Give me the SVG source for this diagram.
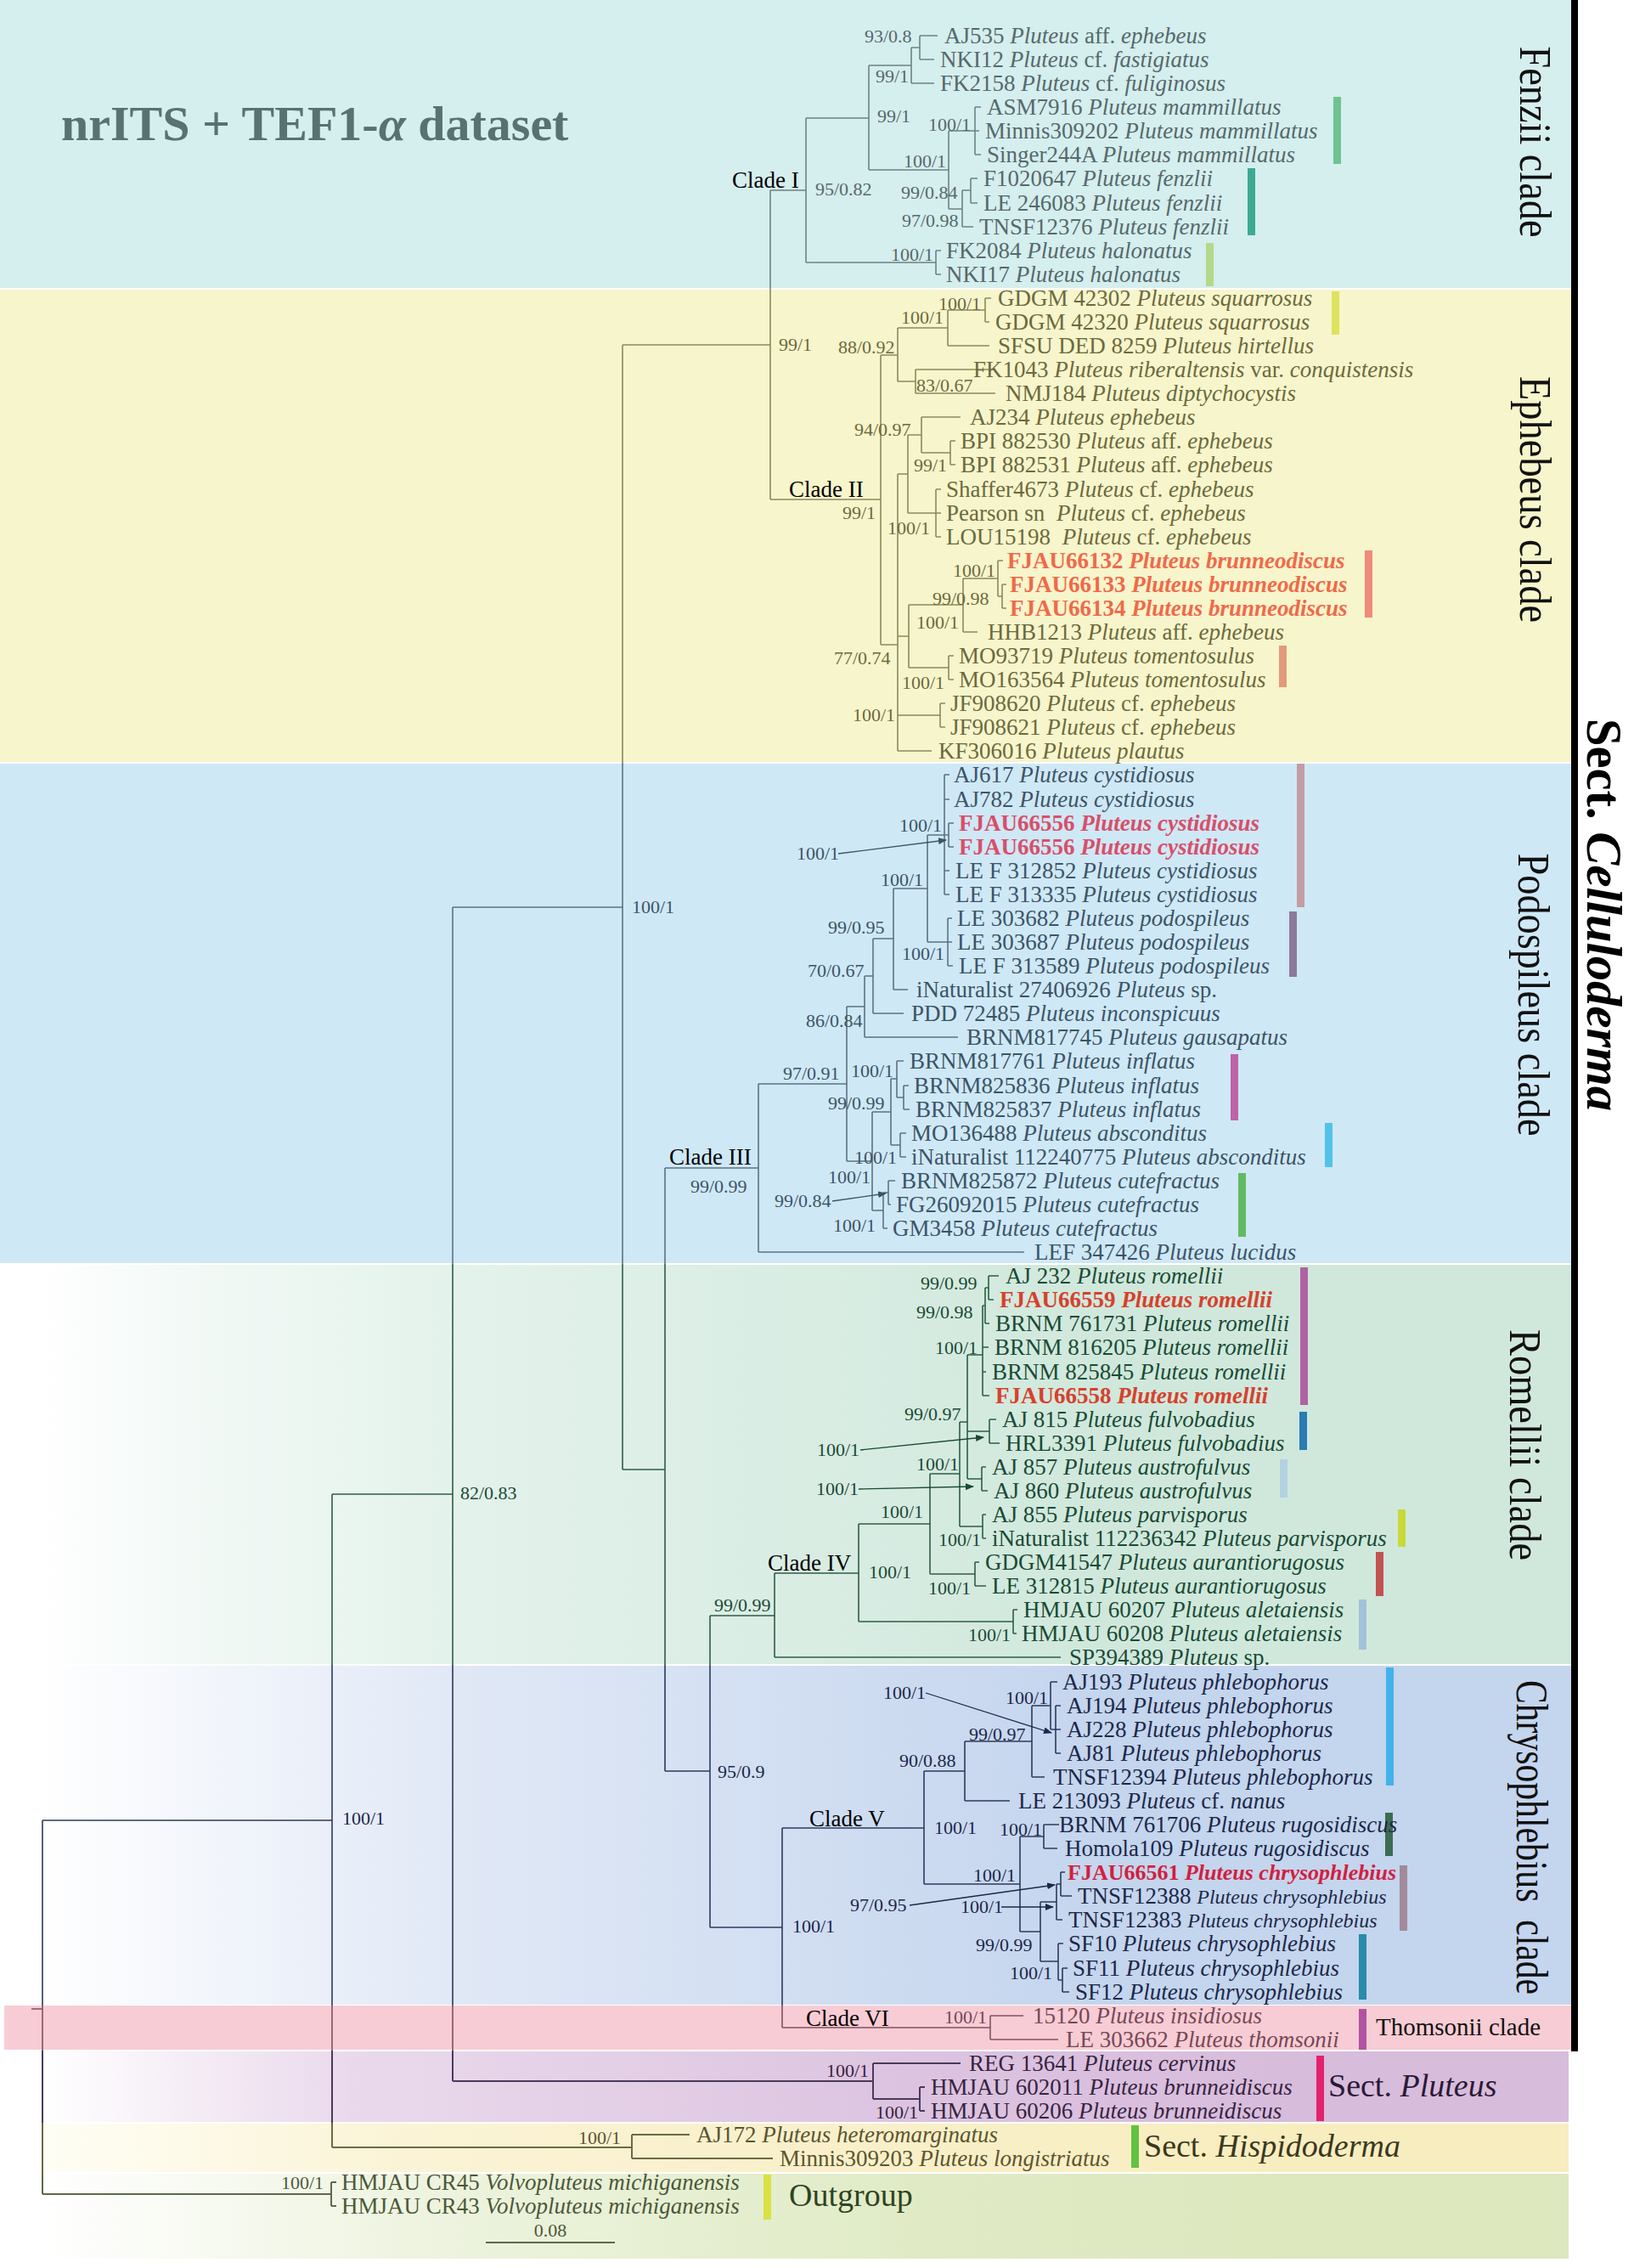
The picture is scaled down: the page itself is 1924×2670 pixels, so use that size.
<svg xmlns="http://www.w3.org/2000/svg" width="1924" height="2670" viewBox="0 0 1924 2670">
<defs>
<style>
text{font-family:"Liberation Serif","Times New Roman",serif}
.lf{font-size:27px}
.bs{font-size:22px}
.i{font-style:italic}
.hb{font-weight:bold}
.sm{font-size:24px}
.cl{font-size:27px;fill:#000}
.tF{fill:#56696a}.tE{fill:#6b6a3e}.tP{fill:#3c5466}.tR{fill:#1a4a34}.tC{fill:#1c2848}.tT{fill:#744856}.tS{fill:#36243f}.tH{fill:#5a5530}.tO{fill:#4b5838}
.r1{fill:#f0694a}.r2{fill:#d84f69}.r3{fill:#d6412c}.r4{fill:#d21f3e;font-size:26px}
.e{fill:none;stroke-width:1.6}
.lF{stroke:#6d8383}.lE{stroke:#8b8a5c}.lP{stroke:#5c7282}.lR{stroke:#2e5d47}.lC{stroke:#2c3a5c}.lT{stroke:#84505e}
.lS{stroke:#4a3a5a;stroke-width:2}.lH{stroke:#6d6a44;stroke-width:2}.lO{stroke:#5c6a4a;stroke-width:2}
.ar{fill:none;stroke-width:1.3}
.side{font-size:52px;fill:#111}
.sect{font-size:38px}
</style>
<linearGradient id="gR" gradientUnits="userSpaceOnUse" x1="45" y1="0" x2="1300" y2="0"><stop offset="0" stop-color="#ffffff"/><stop offset="0.12" stop-color="#f4faf7"/><stop offset="0.4" stop-color="#e3f2eb"/><stop offset="1" stop-color="#d0e8dc"/></linearGradient>
<linearGradient id="gC" gradientUnits="userSpaceOnUse" x1="45" y1="0" x2="1300" y2="0"><stop offset="0" stop-color="#ffffff"/><stop offset="0.4" stop-color="#e0e8f6"/><stop offset="1" stop-color="#c4d5ee"/></linearGradient>
<linearGradient id="gS" gradientUnits="userSpaceOnUse" x1="49" y1="0" x2="1500" y2="0"><stop offset="0" stop-color="#ffffff"/><stop offset="0.25" stop-color="#ead9ec"/><stop offset="0.7" stop-color="#dcc4e0"/><stop offset="1" stop-color="#d8bcdc"/></linearGradient>
<linearGradient id="gH" gradientUnits="userSpaceOnUse" x1="49" y1="0" x2="1500" y2="0"><stop offset="0" stop-color="#fffef5"/><stop offset="0.3" stop-color="#faf3d5"/><stop offset="1" stop-color="#f8edbf"/></linearGradient>
<linearGradient id="gO" gradientUnits="userSpaceOnUse" x1="49" y1="0" x2="1500" y2="0"><stop offset="0" stop-color="#ffffff"/><stop offset="0.3" stop-color="#eef4e0"/><stop offset="0.7" stop-color="#e0ebc6"/><stop offset="1" stop-color="#dde8bf"/></linearGradient>
<marker id="mP" viewBox="0 0 10 8" refX="9" refY="4" markerWidth="10" markerHeight="8" markerUnits="userSpaceOnUse" orient="auto"><path d="M0 0L10 4L0 8z" fill="#3c5466"/></marker>
<marker id="mR" viewBox="0 0 10 8" refX="9" refY="4" markerWidth="10" markerHeight="8" markerUnits="userSpaceOnUse" orient="auto"><path d="M0 0L10 4L0 8z" fill="#1a4a34"/></marker>
<marker id="mC" viewBox="0 0 10 8" refX="9" refY="4" markerWidth="10" markerHeight="8" markerUnits="userSpaceOnUse" orient="auto"><path d="M0 0L10 4L0 8z" fill="#1c2848"/></marker>
</defs>

<g id="bands">
<rect x="0" y="0" width="1850" height="339" fill="#d5eeee"/>
<rect x="0" y="341" width="1850" height="556" fill="#f7f5cb"/>
<rect x="0" y="899" width="1850" height="588" fill="#cfe8f6"/>
<rect x="45" y="1489" width="1805" height="470" fill="url(#gR)"/>
<rect x="45" y="1961" width="1805" height="399" fill="url(#gC)"/>
<rect x="5" y="2361" width="1845" height="52" fill="#f8ccd4"/>
<rect x="49" y="2415" width="1798" height="83" fill="url(#gS)"/>
<rect x="49" y="2500" width="1798" height="57" fill="url(#gH)"/>
<rect x="49" y="2559" width="1798" height="100" fill="url(#gO)"/>
<rect x="1850" y="0" width="8" height="2415" fill="#000"/>
</g>

<g id="title"><text x="72" y="165" font-size="58" font-weight="bold" fill="#587272">nrITS + TEF1-<tspan font-style="italic">α</tspan> dataset</text></g>

<g id="connectors">
<path class="e lF" d="M907 224V340M907 224H949M949 139V309M949 139H1023M949 309H1102M1023 77V200M1023 77H1073M1023 200H1117M1073 56V98M1073 56H1083M1073 98H1100M1083 42V70M1083 42H1104M1083 70H1100M1117 154V246M1117 154H1148M1117 246H1133M1148 126V182M1148 126H1155M1148 154H1153M1148 182H1155M1133 224V267M1133 224H1143M1133 267H1146M1143 210V239M1143 210H1151M1143 239H1151M1102 295V323M1102 295H1108M1102 323H1108"/>
<path class="e lE" d="M907 340V588M733 406H907M733 406V898M907 588H1037M1037 418V759M1037 418H1057M1037 759H1057M1057 386V449M1057 386H1116M1057 449H1078M1116 365V407M1116 365H1160M1116 407H1165M1160 351V379M1160 351H1167M1160 379H1165M1078 435V463M1078 435H1172M1078 463H1172M1057 558V884M1057 558H1069M1057 749H1070M1057 842H1107M1057 884H1097M1069 512V604M1069 512H1085M1069 604H1102M1085 491V533M1085 491H1131M1085 533H1119M1119 519V547M1119 519H1125M1119 547H1125M1102 576V632M1102 576H1108M1102 604H1108M1102 632H1108M1070 712V786M1070 712H1134M1070 786H1117M1134 681V744M1134 681H1175M1134 744H1151M1175 660V702M1175 660H1181M1175 702H1180M1180 688V716M1180 688H1185M1180 716H1185M1117 772V800M1117 772H1123M1117 800H1123M1107 828V856M1107 828H1113M1107 856H1113"/>
<path class="e lP" d="M733 898V1488M533 1068V1488M533 1068H733M783 1375V1488M783 1375H893M893 1276V1474M893 1276H997M893 1474H1206M997 1185V1367M997 1185H1018M997 1367H1027M1018 1149V1221M1018 1149H1028M1018 1221H1128M1028 1105V1193M1028 1105H1052M1028 1193H1064M1052 1046V1165M1052 1046H1092M1052 1165H1069M1092 983V1109M1092 983H1112M1092 1109H1116M1112 912V1053M1112 912H1118M1112 941H1118M1112 983H1117M1112 1025H1118M1112 1053H1118M1117 969V997M1117 969H1123M1117 997H1123M1116 1081V1137M1116 1081H1121M1116 1109H1121M1116 1137H1122M1027 1309V1425M1027 1309H1049M1027 1425H1040M1049 1270V1348M1049 1270H1056M1049 1348H1060M1056 1249V1292M1056 1249H1064M1056 1292H1064M1064 1278V1306M1064 1278H1070M1064 1306H1071M1060 1334V1362M1060 1334H1067M1060 1362H1067M1040 1404V1446M1040 1404H1046M1040 1446H1045M1046 1390V1418M1046 1390H1054M1046 1418H1049"/>
<path class="e lR" d="M733 1488V1730M733 1730H783M783 1488V1960M533 1488V1960M391 1759V1960M391 1759H533M836 1902V1960M836 1902H912M912 1852V1951M912 1852H1011M912 1951H1249M1011 1794V1909M1011 1794H1095M1011 1909H1193M1095 1735V1853M1095 1735H1130M1095 1853H1148M1130 1674V1797M1130 1674H1139M1130 1797H1157M1139 1595V1741M1139 1595H1157M1139 1685H1165M1139 1741H1156M1157 1537V1643M1157 1537H1160M1157 1586H1164M1157 1615H1161M1157 1643H1165M1160 1516V1558M1160 1516H1164M1160 1558H1165M1164 1502V1530M1164 1502H1176M1164 1530H1170M1165 1671V1699M1165 1671H1173M1165 1699H1177M1156 1727V1755M1156 1727H1161M1156 1755H1163M1157 1783V1811M1157 1783H1161M1157 1811H1161M1148 1839V1867M1148 1839H1153M1148 1867H1161M1193 1895V1923M1193 1895H1198M1193 1923H1197"/>
<path class="e lC" d="M783 1960V2085M783 2085H836M836 1960V2269M836 2269H921M533 1960V2361M391 1960V2361M50 2143V2361M50 2143H391M921 2152V2361M921 2152H1088M1088 2085V2218M1088 2085H1136M1088 2218H1201M1136 2050V2120M1136 2050H1215M1136 2120H1189M1215 2008V2092M1215 2008H1237M1215 2092H1230M1237 1980V2036M1237 1980H1245M1237 2036H1243M1243 2008V2064M1243 2008H1249M1243 2036H1249M1243 2064H1249M1201 2162V2274M1201 2162H1229M1201 2274H1225M1229 2148V2176M1229 2148H1247M1229 2176H1245M1225 2239V2309M1225 2239H1244M1225 2309H1246M1244 2218V2260M1244 2218H1249M1244 2260H1251M1249 2204V2232M1249 2204H1254M1249 2232H1262M1246 2288V2331M1246 2288H1252M1246 2331H1251M1251 2317V2345M1251 2317H1257M1251 2345H1259"/>
<path class="e lT" d="M921 2361V2387M921 2387H1166M1166 2373V2401M1166 2373H1205M1166 2401H1246M533 2361V2414M391 2361V2414M50 2361V2414M37 2365H50"/>
<path class="e lS" d="M533 2414V2450M533 2450H1028M1028 2429V2471M1028 2429H1131M1028 2471H1083M1083 2457V2485M1083 2457H1089M1083 2485H1089M391 2414V2499M50 2414V2499"/>
<path class="e lH" d="M391 2499V2528M391 2528H744M744 2513V2541M744 2513H812M744 2541H910M50 2499V2558"/>
<path class="e lO" d="M50 2558V2583M50 2583H390M390 2569V2597M390 2569H396M390 2597H396M572 2640H724"/>
<path class="ar" stroke="#3c5466" marker-end="url(#mP)" d="M987 1005L1114 989"/>
<path class="ar" stroke="#3c5466" marker-end="url(#mP)" d="M980 1414L1043 1405"/>
<path class="ar" stroke="#1a4a34" marker-end="url(#mR)" d="M1013 1707L1158 1692"/>
<path class="ar" stroke="#1a4a34" marker-end="url(#mR)" d="M1011 1753L1146 1750"/>
<path class="ar" stroke="#1c2848" marker-end="url(#mC)" d="M1090 1993L1238 2040"/>
<path class="ar" stroke="#1c2848" marker-end="url(#mC)" d="M1071 2243L1242 2219"/>
<path class="ar" stroke="#1c2848" marker-end="url(#mC)" d="M1179 2245L1240 2245"/>
</g>

<g id="bars">
<rect x="1570" y="114" width="9" height="79" fill="#6ec38f"/>
<rect x="1469" y="198" width="9" height="79" fill="#3caa92"/>
<rect x="1420" y="286" width="9" height="51" fill="#b5d98a"/>
<rect x="1568" y="343" width="9" height="51" fill="#dde35e"/>
<rect x="1607" y="648" width="9" height="79" fill="#f08a7a"/>
<rect x="1506" y="760" width="9" height="49" fill="#e39a7c"/>
<rect x="1527" y="899" width="9" height="169" fill="#c49ca4"/>
<rect x="1518" y="1073" width="9" height="77" fill="#8c7a9a"/>
<rect x="1449" y="1241" width="9" height="78" fill="#c062a8"/>
<rect x="1560" y="1322" width="9" height="52" fill="#52c2ea"/>
<rect x="1458" y="1381" width="9" height="75" fill="#62ba62"/>
<rect x="1531" y="1492" width="9" height="162" fill="#b062a2"/>
<rect x="1530" y="1662" width="9" height="45" fill="#2a7cb2"/>
<rect x="1507" y="1718" width="9" height="45" fill="#b2d2e2"/>
<rect x="1646" y="1777" width="9" height="44" fill="#cad83a"/>
<rect x="1620" y="1827" width="9" height="52" fill="#c25252"/>
<rect x="1600" y="1883" width="9" height="59" fill="#a2c2da"/>
<rect x="1632" y="1963" width="9" height="139" fill="#42b2ea"/>
<rect x="1631" y="2134" width="9" height="51" fill="#3c6c52"/>
<rect x="1648" y="2196" width="9" height="77" fill="#a28a9a"/>
<rect x="1600" y="2277" width="9" height="77" fill="#2a8aaa"/>
<rect x="1600" y="2365" width="9" height="48" fill="#b252a2"/>
<rect x="1550" y="2420" width="9" height="77" fill="#e2226c"/>
<rect x="1332" y="2502" width="9" height="50" fill="#62c242"/>
<rect x="899" y="2560" width="9" height="53" fill="#dae242"/>
</g>

<g id="clade-labels">
<g id="clade-I"><text class="cl" x="862" y="221">Clade I</text></g>
<g id="clade-II"><text class="cl" x="929" y="585">Clade II</text></g>
<g id="clade-III"><text class="cl" x="788" y="1371">Clade III</text></g>
<g id="clade-IV"><text class="cl" x="904" y="1849">Clade IV</text></g>
<g id="clade-V"><text class="cl" x="953" y="2150">Clade V</text></g>
<g id="clade-VI"><text class="cl" x="949" y="2385">Clade VI</text></g>
</g>

<g id="side-labels">
<g id="fenzii-clade"><text class="side" transform="translate(1790,167) rotate(90)" text-anchor="middle" textLength="225" lengthAdjust="spacingAndGlyphs">Fenzii clade</text></g>
<g id="ephebeus-clade"><text class="side" transform="translate(1790,588) rotate(90)" text-anchor="middle" textLength="290" lengthAdjust="spacingAndGlyphs">Ephebeus clade</text></g>
<g id="podospileus-clade"><text class="side" transform="translate(1788,1171) rotate(90)" text-anchor="middle" textLength="333" lengthAdjust="spacingAndGlyphs">Podospileus clade</text></g>
<g id="romellii-clade"><text class="side" transform="translate(1778,1701) rotate(90)" text-anchor="middle" textLength="272" lengthAdjust="spacingAndGlyphs">Romellii clade</text></g>
<g id="chrysophlebius-clade"><text class="side" transform="translate(1786,2163) rotate(90)" text-anchor="middle" textLength="370" lengthAdjust="spacingAndGlyphs" xml:space="preserve">Chrysophlebius  clade</text></g>
<g id="sect-celluloderma"><text transform="translate(1869,1077) rotate(90)" text-anchor="middle" font-size="60" font-weight="bold" fill="#000" textLength="462" lengthAdjust="spacingAndGlyphs">Sect. <tspan font-style="italic">Celluloderma</tspan></text></g>
<g id="thomsonii-clade"><text x="1620" y="2396" font-size="29" fill="#111">Thomsonii clade</text></g>
<g id="sect-pluteus"><text class="sect" x="1564" y="2468" fill="#2a1a36">Sect. <tspan class="i">Pluteus</tspan></text></g>
<g id="sect-hispidoderma"><text class="sect" x="1347" y="2539" fill="#3a3820">Sect. <tspan class="i">Hispidoderma</tspan></text></g>
<g id="outgroup"><text class="sect" x="929" y="2597" fill="#2e4420">Outgroup</text></g>
<g id="scale"><text x="648" y="2633" font-size="22" text-anchor="middle" fill="#4b5838">0.08</text></g>
</g>

<g id="supports" class="bs">
<text class="tE" x="917" y="413">99/1</text>
<text class="tF" x="960" y="230">95/0.82</text>
<text class="tF" x="1033" y="144">99/1</text>
<text class="tF" x="1031" y="97">99/1</text>
<text class="tF" x="1018" y="50">93/0.8</text>
<text class="tF" x="1064" y="197">100/1</text>
<text class="tF" x="1093" y="154">100/1</text>
<text class="tF" x="1061" y="234">99/0.84</text>
<text class="tF" x="1062" y="267">97/0.98</text>
<text class="tF" x="1049" y="307">100/1</text>
<text class="tE" x="992" y="611">99/1</text>
<text class="tE" x="987" y="416">88/0.92</text>
<text class="tE" x="982" y="782">77/0.74</text>
<text class="tE" x="1061" y="381">100/1</text>
<text class="tE" x="1105" y="365">100/1</text>
<text class="tE" x="1079" y="461">83/0.67</text>
<text class="tE" x="1006" y="513">94/0.97</text>
<text class="tE" x="1076" y="555">99/1</text>
<text class="tE" x="1045" y="629">100/1</text>
<text class="tE" x="1122" y="679">100/1</text>
<text class="tE" x="1098" y="712">99/0.98</text>
<text class="tE" x="1079" y="740">100/1</text>
<text class="tE" x="1062" y="811">100/1</text>
<text class="tE" x="1004" y="849">100/1</text>
<text class="tP" x="744" y="1075">100/1</text>
<text class="tP" x="1059" y="979">100/1</text>
<text class="tP" x="938" y="1012">100/1</text>
<text class="tP" x="1037" y="1043">100/1</text>
<text class="tP" x="1062" y="1130">100/1</text>
<text class="tP" x="975" y="1099">99/0.95</text>
<text class="tP" x="951" y="1150">70/0.67</text>
<text class="tP" x="949" y="1209">86/0.84</text>
<text class="tP" x="922" y="1271">97/0.91</text>
<text class="tP" x="1002" y="1268">100/1</text>
<text class="tP" x="975" y="1306">99/0.99</text>
<text class="tP" x="1006" y="1370">100/1</text>
<text class="tP" x="975" y="1393">100/1</text>
<text class="tP" x="912" y="1421">99/0.84</text>
<text class="tP" x="981" y="1450">100/1</text>
<text class="tP" x="813" y="1404">99/0.99</text>
<text class="tR" x="542" y="1765">82/0.83</text>
<text class="tR" x="1084" y="1518">99/0.99</text>
<text class="tR" x="1079" y="1552">99/0.98</text>
<text class="tR" x="1101" y="1594">100/1</text>
<text class="tR" x="1065" y="1672">99/0.97</text>
<text class="tR" x="962" y="1714">100/1</text>
<text class="tR" x="1079" y="1731">100/1</text>
<text class="tR" x="961" y="1760">100/1</text>
<text class="tR" x="1037" y="1787">100/1</text>
<text class="tR" x="1105" y="1820">100/1</text>
<text class="tR" x="1023" y="1858">100/1</text>
<text class="tR" x="1093" y="1877">100/1</text>
<text class="tR" x="841" y="1897">99/0.99</text>
<text class="tR" x="1140" y="1932">100/1</text>
<text class="tC" x="403" y="2148">100/1</text>
<text class="tC" x="845" y="2093">95/0.9</text>
<text class="tC" x="1040" y="2000">100/1</text>
<text class="tC" x="1184" y="2006">100/1</text>
<text class="tC" x="1141" y="2049">99/0.97</text>
<text class="tC" x="1059" y="2080">90/0.88</text>
<text class="tC" x="1100" y="2159">100/1</text>
<text class="tC" x="1177" y="2161">100/1</text>
<text class="tC" x="1146" y="2215">100/1</text>
<text class="tC" x="1001" y="2250">97/0.95</text>
<text class="tC" x="1131" y="2252">100/1</text>
<text class="tC" x="933" y="2275">100/1</text>
<text class="tC" x="1149" y="2297">99/0.99</text>
<text class="tC" x="1189" y="2330">100/1</text>
<text class="tT" x="1112" y="2382">100/1</text>
<text class="tS" x="973" y="2445">100/1</text>
<text class="tS" x="1031" y="2494">100/1</text>
<text class="tH" x="681" y="2524">100/1</text>
<text class="tO" x="331" y="2577">100/1</text>
</g>

<g id="leaves" class="lf">
<g id="t0"><text class="tF" x="1112" y="51">AJ535 <tspan class="i">Pluteus</tspan> aff. <tspan class="i">ephebeus</tspan></text></g>
<g id="t1"><text class="tF" x="1107" y="79">NKI12 <tspan class="i">Pluteus</tspan> cf. <tspan class="i">fastigiatus</tspan></text></g>
<g id="t2"><text class="tF" x="1107" y="107">FK2158 <tspan class="i">Pluteus</tspan> cf. <tspan class="i">fuliginosus</tspan></text></g>
<g id="t3"><text class="tF" x="1162" y="135">ASM7916 <tspan class="i">Pluteus mammillatus</tspan></text></g>
<g id="t4"><text class="tF" x="1160" y="163">Minnis309202 <tspan class="i">Pluteus mammillatus</tspan></text></g>
<g id="t5"><text class="tF" x="1162" y="191">Singer244A <tspan class="i">Pluteus mammillatus</tspan></text></g>
<g id="t6"><text class="tF" x="1158" y="219">F1020647 <tspan class="i">Pluteus fenzlii</tspan></text></g>
<g id="t7"><text class="tF" x="1158" y="248">LE 246083 <tspan class="i">Pluteus fenzlii</tspan></text></g>
<g id="t8"><text class="tF" x="1153" y="276">TNSF12376 <tspan class="i">Pluteus fenzlii</tspan></text></g>
<g id="t9"><text class="tF" x="1114" y="304">FK2084 <tspan class="i">Pluteus halonatus</tspan></text></g>
<g id="t10"><text class="tF" x="1114" y="332">NKI17 <tspan class="i">Pluteus halonatus</tspan></text></g>
<g id="t11"><text class="tE" x="1175" y="360">GDGM 42302 <tspan class="i">Pluteus squarrosus</tspan></text></g>
<g id="t12"><text class="tE" x="1172" y="388">GDGM 42320 <tspan class="i">Pluteus squarrosus</tspan></text></g>
<g id="t13"><text class="tE" x="1175" y="416">SFSU DED 8259 <tspan class="i">Pluteus hirtellus</tspan></text></g>
<g id="t14"><text class="tE" x="1146" y="444">FK1043 <tspan class="i">Pluteus riberaltensis</tspan> var. <tspan class="i">conquistensis</tspan></text></g>
<g id="t15"><text class="tE" x="1184" y="472">NMJ184 <tspan class="i">Pluteus diptychocystis</tspan></text></g>
<g id="t16"><text class="tE" x="1142" y="500">AJ234 <tspan class="i">Pluteus ephebeus</tspan></text></g>
<g id="t17"><text class="tE" x="1131" y="528">BPI 882530 <tspan class="i">Pluteus</tspan> aff. <tspan class="i">ephebeus</tspan></text></g>
<g id="t18"><text class="tE" x="1131" y="556">BPI 882531 <tspan class="i">Pluteus</tspan> aff. <tspan class="i">ephebeus</tspan></text></g>
<g id="t19"><text class="tE" x="1114" y="585">Shaffer4673 <tspan class="i">Pluteus</tspan> cf. <tspan class="i">ephebeus</tspan></text></g>
<g id="t20"><text class="tE" x="1114" y="613">Pearson sn <tspan class="i" dx="7">Pluteus</tspan> cf. <tspan class="i">ephebeus</tspan></text></g>
<g id="t21"><text class="tE" x="1114" y="641">LOU15198 <tspan class="i" dx="7">Pluteus</tspan> cf. <tspan class="i">ephebeus</tspan></text></g>
<g id="t22"><text class="r1 hb" x="1186" y="669">FJAU66132 <tspan class="i">Pluteus brunneodiscus</tspan></text></g>
<g id="t23"><text class="r1 hb" x="1189" y="697">FJAU66133 <tspan class="i">Pluteus brunneodiscus</tspan></text></g>
<g id="t24"><text class="r1 hb" x="1189" y="725">FJAU66134 <tspan class="i">Pluteus brunneodiscus</tspan></text></g>
<g id="t25"><text class="tE" x="1163" y="753">HHB1213 <tspan class="i">Pluteus</tspan> aff. <tspan class="i">ephebeus</tspan></text></g>
<g id="t26"><text class="tE" x="1129" y="781">MO93719 <tspan class="i">Pluteus tomentosulus</tspan></text></g>
<g id="t27"><text class="tE" x="1129" y="809">MO163564 <tspan class="i">Pluteus tomentosulus</tspan></text></g>
<g id="t28"><text class="tE" x="1119" y="837">JF908620 <tspan class="i">Pluteus</tspan> cf. <tspan class="i">ephebeus</tspan></text></g>
<g id="t29"><text class="tE" x="1119" y="865">JF908621 <tspan class="i">Pluteus</tspan> cf. <tspan class="i">ephebeus</tspan></text></g>
<g id="t30"><text class="tE" x="1105" y="893">KF306016 <tspan class="i">Pluteus plautus</tspan></text></g>
<g id="t31"><text class="tP" x="1123" y="921">AJ617 <tspan class="i">Pluteus cystidiosus</tspan></text></g>
<g id="t32"><text class="tP" x="1123" y="950">AJ782 <tspan class="i">Pluteus cystidiosus</tspan></text></g>
<g id="t33"><text class="r2 hb" x="1129" y="978">FJAU66556 <tspan class="i">Pluteus cystidiosus</tspan></text></g>
<g id="t34"><text class="r2 hb" x="1129" y="1006">FJAU66556 <tspan class="i">Pluteus cystidiosus</tspan></text></g>
<g id="t35"><text class="tP" x="1125" y="1034">LE F 312852 <tspan class="i">Pluteus cystidiosus</tspan></text></g>
<g id="t36"><text class="tP" x="1125" y="1062">LE F 313335 <tspan class="i">Pluteus cystidiosus</tspan></text></g>
<g id="t37"><text class="tP" x="1127" y="1090">LE 303682 <tspan class="i">Pluteus podospileus</tspan></text></g>
<g id="t38"><text class="tP" x="1127" y="1118">LE 303687 <tspan class="i">Pluteus podospileus</tspan></text></g>
<g id="t39"><text class="tP" x="1129" y="1146">LE F 313589 <tspan class="i">Pluteus podospileus</tspan></text></g>
<g id="t40"><text class="tP" x="1079" y="1174">iNaturalist 27406926 <tspan class="i">Pluteus</tspan> sp.</text></g>
<g id="t41"><text class="tP" x="1073" y="1202">PDD 72485 <tspan class="i">Pluteus inconspicuus</tspan></text></g>
<g id="t42"><text class="tP" x="1138" y="1230">BRNM817745 <tspan class="i">Pluteus gausapatus</tspan></text></g>
<g id="t43"><text class="tP" x="1071" y="1258">BRNM817761 <tspan class="i">Pluteus inflatus</tspan></text></g>
<g id="t44"><text class="tP" x="1076" y="1287">BRNM825836 <tspan class="i">Pluteus inflatus</tspan></text></g>
<g id="t45"><text class="tP" x="1078" y="1315">BRNM825837 <tspan class="i">Pluteus inflatus</tspan></text></g>
<g id="t46"><text class="tP" x="1073" y="1343">MO136488 <tspan class="i">Pluteus absconditus</tspan></text></g>
<g id="t47"><text class="tP" x="1073" y="1371">iNaturalist 112240775 <tspan class="i">Pluteus absconditus</tspan></text></g>
<g id="t48"><text class="tP" x="1061" y="1399">BRNM825872 <tspan class="i">Pluteus cutefractus</tspan></text></g>
<g id="t49"><text class="tP" x="1055" y="1427">FG26092015 <tspan class="i">Pluteus cutefractus</tspan></text></g>
<g id="t50"><text class="tP" x="1051" y="1455">GM3458 <tspan class="i">Pluteus cutefractus</tspan></text></g>
<g id="t51"><text class="tP" x="1218" y="1483">LEF 347426 <tspan class="i">Pluteus lucidus</tspan></text></g>
<g id="t52"><text class="tR" x="1184" y="1511">AJ 232 <tspan class="i">Pluteus romellii</tspan></text></g>
<g id="t53"><text class="r3 hb" x="1177" y="1539">FJAU66559 <tspan class="i">Pluteus romellii</tspan></text></g>
<g id="t54"><text class="tR" x="1172" y="1567">BRNM 761731 <tspan class="i">Pluteus romellii</tspan></text></g>
<g id="t55"><text class="tR" x="1171" y="1595">BRNM 816205 <tspan class="i">Pluteus romellii</tspan></text></g>
<g id="t56"><text class="tR" x="1168" y="1624">BRNM 825845 <tspan class="i">Pluteus romellii</tspan></text></g>
<g id="t57"><text class="r3 hb" x="1172" y="1652">FJAU66558 <tspan class="i">Pluteus romellii</tspan></text></g>
<g id="t58"><text class="tR" x="1180" y="1680">AJ 815 <tspan class="i">Pluteus fulvobadius</tspan></text></g>
<g id="t59"><text class="tR" x="1184" y="1708">HRL3391 <tspan class="i">Pluteus fulvobadius</tspan></text></g>
<g id="t60"><text class="tR" x="1168" y="1736">AJ 857 <tspan class="i">Pluteus austrofulvus</tspan></text></g>
<g id="t61"><text class="tR" x="1170" y="1764">AJ 860 <tspan class="i">Pluteus austrofulvus</tspan></text></g>
<g id="t62"><text class="tR" x="1168" y="1792">AJ 855 <tspan class="i">Pluteus parvisporus</tspan></text></g>
<g id="t63"><text class="tR" x="1168" y="1820">iNaturalist 112236342 <tspan class="i">Pluteus parvisporus</tspan></text></g>
<g id="t64"><text class="tR" x="1160" y="1848">GDGM41547 <tspan class="i">Pluteus aurantiorugosus</tspan></text></g>
<g id="t65"><text class="tR" x="1168" y="1876">LE 312815 <tspan class="i">Pluteus aurantiorugosus</tspan></text></g>
<g id="t66"><text class="tR" x="1205" y="1904">HMJAU 60207 <tspan class="i">Pluteus aletaiensis</tspan></text></g>
<g id="t67"><text class="tR" x="1203" y="1932">HMJAU 60208 <tspan class="i">Pluteus aletaiensis</tspan></text></g>
<g id="t68"><text class="tR" x="1259" y="1960">SP394389 <tspan class="i">Pluteus</tspan> sp.</text></g>
<g id="t69"><text class="tC" x="1251" y="1989">AJ193 <tspan class="i">Pluteus phlebophorus</tspan></text></g>
<g id="t70"><text class="tC" x="1256" y="2017">AJ194 <tspan class="i">Pluteus phlebophorus</tspan></text></g>
<g id="t71"><text class="tC" x="1256" y="2045">AJ228 <tspan class="i">Pluteus phlebophorus</tspan></text></g>
<g id="t72"><text class="tC" x="1256" y="2073">AJ81 <tspan class="i">Pluteus phlebophorus</tspan></text></g>
<g id="t73"><text class="tC" x="1240" y="2101">TNSF12394 <tspan class="i">Pluteus phlebophorus</tspan></text></g>
<g id="t74"><text class="tC" x="1199" y="2129">LE 213093 <tspan class="i">Pluteus</tspan> cf. <tspan class="i">nanus</tspan></text></g>
<g id="t75"><text class="tC" x="1247" y="2157">BRNM 761706 <tspan class="i">Pluteus rugosidiscus</tspan></text></g>
<g id="t76"><text class="tC" x="1254" y="2185">Homola109 <tspan class="i">Pluteus rugosidiscus</tspan></text></g>
<g id="t77"><text class="r4 hb" x="1257" y="2213">FJAU66561 <tspan class="i">Pluteus chrysophlebius</tspan></text></g>
<g id="t78"><text class="tC" x="1269" y="2241">TNSF12388 <tspan class="i sm">Pluteus chrysophlebius</tspan></text></g>
<g id="t79"><text class="tC" x="1258" y="2269">TNSF12383 <tspan class="i sm">Pluteus chrysophlebius</tspan></text></g>
<g id="t80"><text class="tC" x="1258" y="2297">SF10 <tspan class="i">Pluteus chrysophlebius</tspan></text></g>
<g id="t81"><text class="tC" x="1263" y="2326">SF11 <tspan class="i">Pluteus chrysophlebius</tspan></text></g>
<g id="t82"><text class="tC" x="1266" y="2354">SF12 <tspan class="i">Pluteus chrysophlebius</tspan></text></g>
<g id="t83"><text class="tT" x="1216" y="2382">15120 <tspan class="i">Pluteus insidiosus</tspan></text></g>
<g id="t84"><text class="tT" x="1255" y="2410">LE 303662 <tspan class="i">Pluteus thomsonii</tspan></text></g>
<g id="t85"><text class="tS" x="1141" y="2438">REG 13641 <tspan class="i">Pluteus cervinus</tspan></text></g>
<g id="t86"><text class="tS" x="1096" y="2466">HMJAU 602011 <tspan class="i">Pluteus brunneidiscus</tspan></text></g>
<g id="t87"><text class="tS" x="1096" y="2494">HMJAU 60206 <tspan class="i">Pluteus brunneidiscus</tspan></text></g>
<g id="t88"><text class="tH" x="820" y="2522">AJ172 <tspan class="i">Pluteus heteromarginatus</tspan></text></g>
<g id="t89"><text class="tH" x="918" y="2550">Minnis309203 <tspan class="i">Pluteus longistriatus</tspan></text></g>
<g id="t90"><text class="tO" x="402" y="2578">HMJAU CR45 <tspan class="i">Volvopluteus michiganensis</tspan></text></g>
<g id="t91"><text class="tO" x="402" y="2606">HMJAU CR43 <tspan class="i">Volvopluteus michiganensis</tspan></text></g>
</g>
</svg>
